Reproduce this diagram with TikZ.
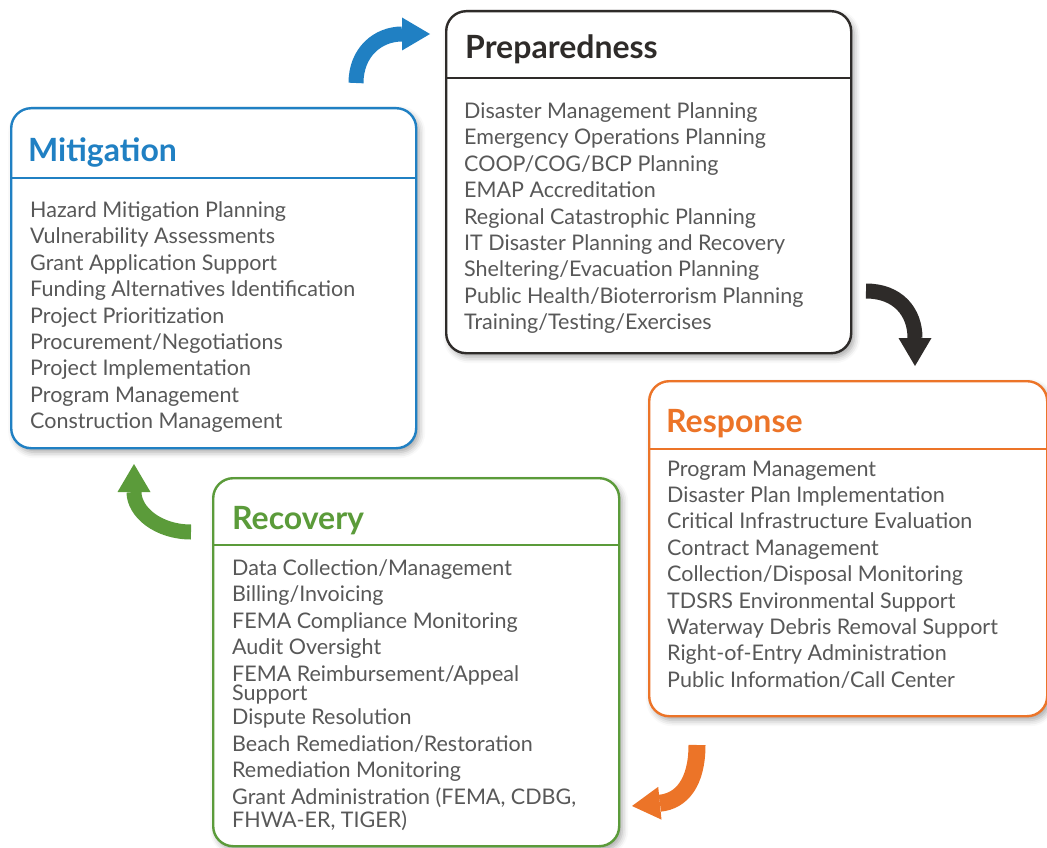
\documentclass[tikz,border=0pt]{standalone}
\usepackage{fontspec}
\setmainfont{Lato}
\usetikzlibrary{arrows.meta,shadows.blur}

\definecolor{mitblue}{HTML}{2080C3}
\definecolor{resorange}{HTML}{EC7428}
\definecolor{recgreen}{HTML}{5B9B3A}
\definecolor{prepdark}{HTML}{2E2B29}
\definecolor{bodygray}{HTML}{585858}

\tikzset{
  phase/.style={draw=#1, line width=2.4pt, rounded corners=20pt, fill=white,
    anchor=north west, inner sep=0pt,
    blur shadow={shadow xshift=3pt, shadow yshift=-4pt, shadow blur radius=6pt, shadow opacity=35}},
  divider/.style={draw=#1, line width=2.2pt},
  phasetitle/.style={anchor=base west, inner sep=0pt,
    font=\fontsize{32}{34}\selectfont\bfseries, text=#1},
  phaselist/.style={anchor=north west, inner sep=0pt, align=left, text=bodygray,
    font=\fontsize{21.5}{26.4}\selectfont},
  cyclearrow/.style={draw=#1, line width=15pt,
    -{Triangle[length=28pt, width=33pt, line width=0pt]}},
}

\begin{document}
\begin{tikzpicture}[x=1pt, y=-1pt]
\useasboundingbox (0,0) rectangle (1047,848);

% ---- Preparedness ----
\node[phase=prepdark, minimum width=405pt, minimum height=342pt] (prep) at (445,10) {};
\draw[divider=prepdark] (prep.west |- 0,78) -- (prep.east |- 0,78);
\node[phasetitle=prepdark] (preptitle) at (465,59) {Preparedness};
\node[phaselist] (preplist) at (464,102.5) {Disaster Management Planning\\
Emergency Operations Planning\\
COOP/COG/BCP Planning\\
EMAP Accreditation\\
Regional Catastrophic Planning\\
IT Disaster Planning and Recovery\\
Sheltering/Evacuation Planning\\
Public Health/Bioterrorism Planning\\
Training/Testing/Exercises};

% ---- Mitigation ----
\node[phase=mitblue, minimum width=405pt, minimum height=340pt] (mit) at (10,107) {};
\draw[divider=mitblue] (mit.west |- 0,178) -- (mit.east |- 0,178);
\node[phasetitle=mitblue] (mittitle) at (28,161) {Mitigation};
\node[phaselist] (mitlist) at (30,201.5) {Hazard Mitigation Planning\\
Vulnerability Assessments\\
Grant Application Support\\
Funding Alternatives Identification\\
Project Prioritization\\
Procurement/Negotiations\\
Project Implementation\\
Program Management\\
Construction Management};

% ---- Response ----
\node[phase=resorange, minimum width=398pt, minimum height=335pt] (resp) at (648,380) {};
\draw[divider=resorange] (resp.west |- 0,449) -- (resp.east |- 0,449);
\node[phasetitle=resorange] (resptitle) at (666,432) {Response};
\node[phaselist] (resplist) at (667,460.5) {Program Management\\
Disaster Plan Implementation\\
Critical Infrastructure Evaluation\\
Contract Management\\
Collection/Disposal Monitoring\\
TDSRS Environmental Support\\
Waterway Debris Removal Support\\
Right-of-Entry Administration\\
Public Information/Call Center};

% ---- Recovery ----
\node[phase=recgreen, minimum width=406pt, minimum height=368pt] (rec) at (212,477) {};
\draw[divider=recgreen] (rec.west |- 0,545) -- (rec.east |- 0,545);
\node[phasetitle=recgreen] (rectitle) at (232,529) {Recovery};
\node[phaselist] (reclist) at (232,559.5) {Data Collection/Management\\
Billing/Invoicing\\
FEMA Compliance Monitoring\\
Audit Oversight\\
FEMA Reimbursement/Appeal\\[-7pt]
Support\\[-2pt]
Dispute Resolution\\
Beach Remediation/Restoration\\
Remediation Monitoring\\
Grant Administration (FEMA, CDBG,\\[-3.5pt]
FHWA-ER, TIGER)};

% ---- cycle arrows ----
\coordinate (a1s) at (356,83);   \coordinate (a1e) at (430,34);
\coordinate (a2s) at (866,291);  \coordinate (a2e) at (915,366);
\coordinate (a3s) at (697,745);  \coordinate (a3e) at (632,806);
\coordinate (a4s) at (191,532);  \coordinate (a4e) at (134,464);

\draw[cyclearrow=mitblue] (a1s) .. controls (356,52) and (378,34) .. (a1e);
\draw[cyclearrow=prepdark] (a2s) .. controls (898,291) and (915,312) .. (a2e);
\draw[cyclearrow=resorange, line width=17pt] (a3s) .. controls (697,782) and (682,801) .. (a3e);
\draw[cyclearrow=recgreen] (a4s) .. controls (158,532) and (134,512) .. (a4e);
\end{tikzpicture}
\end{document}
